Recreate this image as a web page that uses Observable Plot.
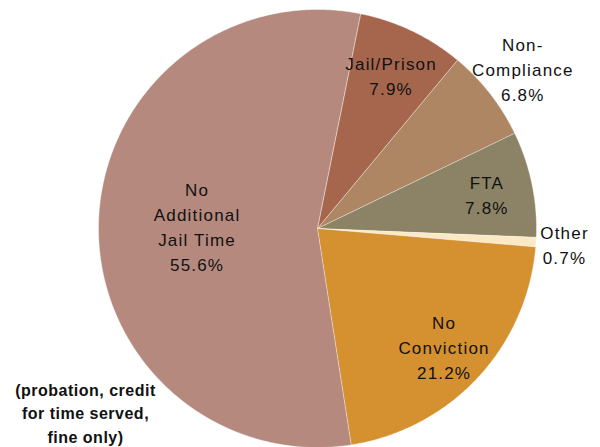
<!DOCTYPE html>
<html>
<head>
<meta charset="utf-8">
<script src="https://cdn.jsdelivr.net/npm/d3@7"></script>
<script src="https://cdn.jsdelivr.net/npm/@observablehq/plot@0.6"></script>
<style>
  html, body { margin: 0; padding: 0; background: #fff; }
  #chart svg .lbl text { letter-spacing: 1.2px; }
  #chart svg .cap text { letter-spacing: 0.5px; }
</style>
</head>
<body>
<div id="chart"></div>
<script>
// ---- data ----
const categories = ["Jail/Prison", "Non-Compliance", "FTA", "Other", "No Conviction", "No Additional Jail Time"];
const labelLines = ["Jail/Prison", "Non-\nCompliance", "FTA", "Other", "No\nConviction", "No\nAdditional\nJail Time"];
const values = [7.9, 6.8, 7.8, 0.7, 21.2, 55.6];
const caption = "(probation, credit\nfor time served,\nfine only)";

// ---- style / layout ----
const colors = ["#a6664e", "#ae8663", "#8c8367", "#fbe9c3", "#d5902f", "#b5897e"];
const labelRadius = [0.78, 1.19, 0.79, 1.13, 0.79, 0.55];
const W = 600, H = 447;
const cx = 317, cy = 228, R = 219;
const startDeg = 11.3;

const rad = d => d * Math.PI / 180;
const arcs = d3.pie().sort(null).value(d => d)
  .startAngle(rad(startDeg)).endAngle(rad(startDeg) + 2 * Math.PI)(values);

const pts = [];
arcs.forEach((a, i) => {
  pts.push({cat: categories[i], x: cx, y: cy});
  const n = Math.max(2, Math.ceil((a.endAngle - a.startAngle) / rad(0.5)));
  for (let k = 0; k <= n; k++) {
    const t = a.startAngle + (a.endAngle - a.startAngle) * k / n;
    pts.push({cat: categories[i], x: cx + R * Math.sin(t), y: cy - R * Math.cos(t)});
  }
});

const labels = arcs.map((a, i) => {
  const m = (a.startAngle + a.endAngle) / 2;
  const r = R * labelRadius[i];
  return {
    text: labelLines[i] + "\n" + values[i].toFixed(1) + "%",
    x: cx + r * Math.sin(m),
    y: cy - r * Math.cos(m)
  };
});

const chart = Plot.plot({
  width: W,
  height: H,
  margin: 0,
  x: {domain: [0, W], range: [0, W], axis: null},
  y: {domain: [0, H], range: [0, H], axis: null},
  color: {domain: categories, range: colors},
  style: {fontFamily: "Liberation Sans, Arial, sans-serif", background: "#fff"},
  marks: [
    Plot.line(pts, {x: "x", y: "y", z: "cat", fill: "cat", curve: "linear-closed",
      stroke: "#ffffff", strokeOpacity: 0.55, strokeWidth: 0.7}),
    Plot.text(labels, {x: "x", y: "y", text: "text", fontSize: 17, lineHeight: 1.47,
      fill: "#111", className: "lbl"}),
    Plot.text([caption], {frameAnchor: "bottom-left", text: d => d, dx: 85, dy: -5,
      textAnchor: "middle", lineAnchor: "bottom", fontSize: 16, fontWeight: "bold",
      lineHeight: 1.45, fill: "#111", className: "cap"})
  ]
});
document.getElementById("chart").appendChild(chart);
</script>
</body>
</html>
